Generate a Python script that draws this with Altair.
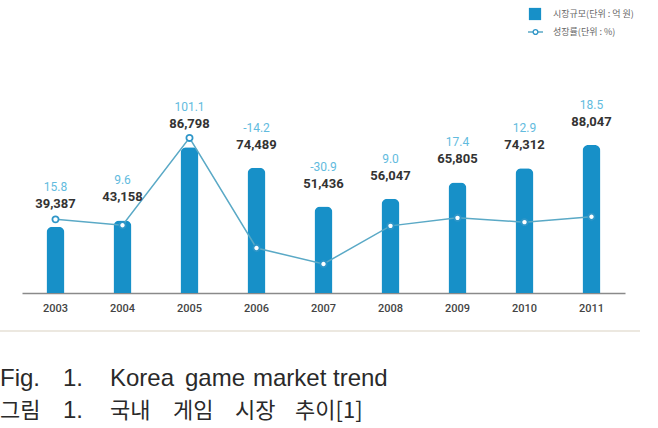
import altair as alt
import pandas as pd

# Korean game market: market size (100M KRW) and growth rate (%)
years = ["2003", "2004", "2005", "2006", "2007", "2008", "2009", "2010", "2011"]
market_size = [39387, 43158, 86798, 74489, 51436, 56047, 65805, 74312, 88047]
growth_rate = [15.8, 9.6, 101.1, -14.2, -30.9, 9.0, 17.4, 12.9, 18.5]

legend_labels = ["시장규모(단위 : 억 원)", "성장률(단위 : %)"]
caption_en = ["Fig.", "1.", "Korea", "game", "market", "trend"]
caption_ko = ["그림", "1.", "국내", "게임", "시장", "추이[1]"]

BAR = "#1790c8"
LINE = "#5aa9c6"
GROWTH_TXT = "#62bbde"
DARK = "#333333"
NUM_FONT = "Roboto"
EN_FONT = "Liberation Sans"
KO_FONT = "Noto Sans CJK KR"

df = pd.DataFrame({
    "year": years,
    "size": market_size,
    "growth": growth_rate,
    "size_label": [f"{v:,}" for v in market_size],
    "growth_label": [f"{v:.1f}" for v in growth_rate],
})

x_enc = alt.X(
    "year:N",
    sort=years,
    scale=alt.Scale(type="band", paddingInner=0, paddingOuter=0),
    axis=alt.Axis(
        title=None, ticks=False, domainColor="#8a8a8a", domainWidth=1.5,
        labelFont=NUM_FONT, labelFontSize=11, labelFontWeight=500,
        labelColor="#444444", labelPadding=9, labelAngle=0,
    ),
)
size_scale = alt.Scale(domain=[0, 174400], nice=False, zero=True)
y_size = alt.Y("size:Q", scale=size_scale, axis=None)

base = alt.Chart(df)

bars = base.mark_bar(
    size=18, color=BAR, cornerRadiusTopLeft=6, cornerRadiusTopRight=6
).encode(x=x_enc, y=y_size)

size_text = base.mark_text(
    dy=-23, font=NUM_FONT, fontSize=13, fontWeight="bold", color=DARK
).encode(x=x_enc, y=y_size, text="size_label:N")

growth_text = base.mark_text(
    dy=-40, font=NUM_FONT, fontSize=12, color=GROWTH_TXT
).encode(x=x_enc, y=y_size, text="growth_label:N")

growth_scale = alt.Scale(domain=[-61.3, 245.5], nice=False, zero=False)
y_growth = alt.Y("growth:Q", scale=growth_scale, axis=None)

growth_line = base.mark_line(color=LINE, strokeWidth=1.5).encode(x=x_enc, y=y_growth)
growth_pts = base.mark_point(
    shape="circle", size=38, filled=True, fill="white", stroke="#2f96c8",
    strokeWidth=1.8, opacity=1
).encode(x=x_enc, y=y_growth)

# Legend drawn at the top right
one = pd.DataFrame({"k": [0]})
leg_square = alt.Chart(one).mark_square(
    size=150, color=BAR, opacity=1
).encode(x=alt.value(513), y=alt.value(14))
leg_line = alt.Chart(one).mark_rule(color=LINE, strokeWidth=1.5).encode(
    x=alt.value(506), x2=alt.value(521), y=alt.value(32)
)
leg_pt = alt.Chart(one).mark_point(
    shape="circle", size=22, filled=True, fill="white", stroke="#2f96c8",
    strokeWidth=1.4, opacity=1
).encode(x=alt.value(513.5), y=alt.value(32))


def small_text(txt, x, y, **kw):
    return alt.Chart(one).mark_text(
        align="left", baseline="middle", text=txt, **kw
    ).encode(x=alt.value(x), y=alt.value(y))


leg_texts = [
    small_text(t, 531, y, font=KO_FONT, fontSize=9, color="#666666")
    for t, y in zip(legend_labels, [14, 32])
]

# Separator and figure caption underneath (words spread across the line)
sep = alt.Chart(one).mark_rule(color="#ece8e0", strokeWidth=2).encode(
    x=alt.value(-22), x2=alt.value(618), y=alt.value(331)
)
en_x = [-22, 41, 88, 163, 231, 311]
ko_x = [-22, 41, 88, 151, 213, 273]
captions = []
for t, x in zip(caption_en, en_x):
    captions.append(small_text(t, x, 379, font=EN_FONT, fontSize=24, color="#2a2a2a"))
for t, x in zip(caption_ko, ko_x):
    fnt = EN_FONT if t == "1." else KO_FONT
    captions.append(small_text(t, x, 411, font=fnt, fontSize=22 if fnt == KO_FONT else 24,
                               color="#2a2a2a"))

chart = (
    alt.layer(
        bars, growth_line, growth_pts, size_text, growth_text,
        leg_square, leg_line, leg_pt, *leg_texts, sep, *captions,
    )
    .resolve_scale(y="independent")
    .properties(
        width=603, height=293,
        autosize=alt.AutoSizeParams(type="none"),
        padding={"left": 22, "top": 0, "right": 33, "bottom": 135},
        background="white",
    )
    .configure_view(stroke=None)
)

chart.save("out.html", embed_options={"renderer": "svg", "actions": False})
